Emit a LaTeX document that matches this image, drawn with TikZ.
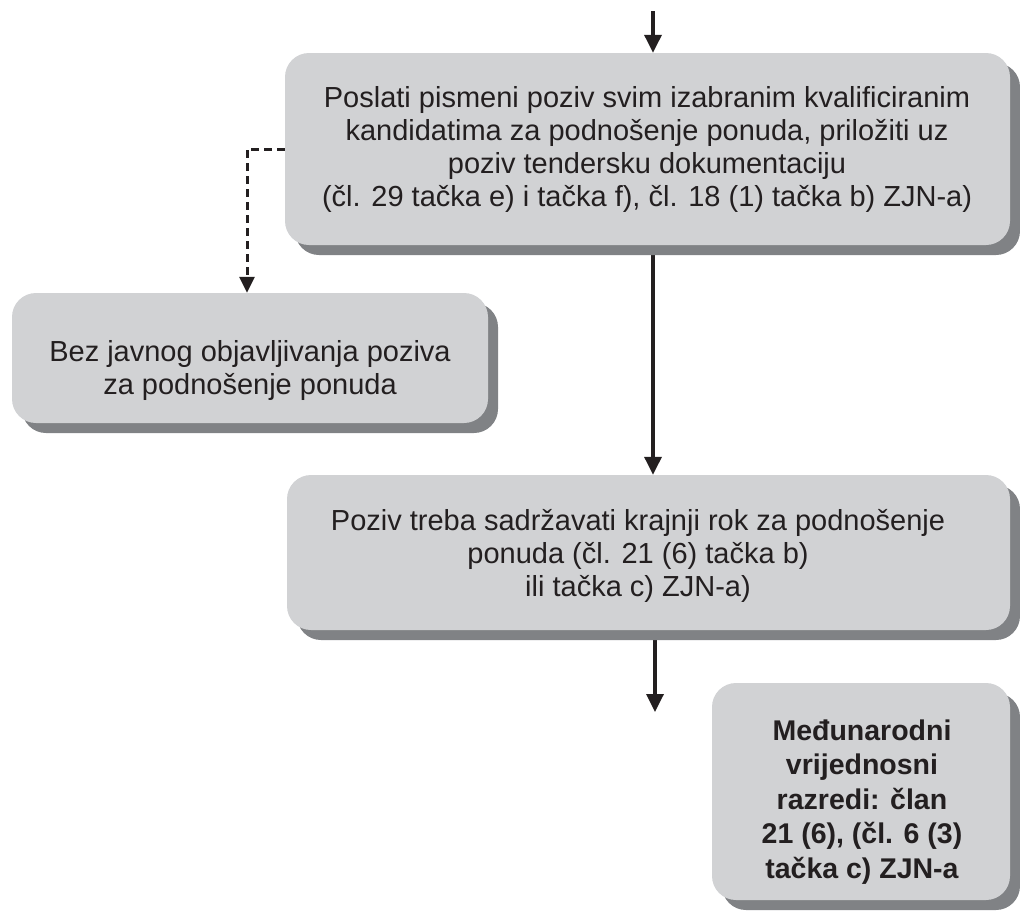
\documentclass[tikz,border=0pt]{standalone}
\usepackage{fontspec}
\setmainfont{Liberation Sans}
\usetikzlibrary{arrows.meta,shadows,backgrounds}
\definecolor{boxgray}{HTML}{D1D2D4}
\definecolor{shadegray}{HTML}{808285}
\definecolor{ink}{HTML}{231F20}
\tikzset{
  stepbox/.style={fill=boxgray, draw=none, rounded corners=24pt, inner sep=0pt,
    drop shadow={shadow xshift=10pt, shadow yshift=-10pt, fill=shadegray, opacity=1}},
  steptext/.style={align=center, text=ink, inner sep=0pt,
    font=\fontsize{29}{33}\selectfont},
  flow/.style={line width=3.4pt, draw=ink, -{Triangle[length=18pt,width=17pt]}},
  dashflow/.style={line width=3pt, draw=ink, dash pattern=on 8pt off 5pt,
    -{Triangle[length=16pt,width=15pt]}}
}
\begin{document}
\begin{tikzpicture}[x=1pt,y=-1pt]
\useasboundingbox (0,0) rectangle (1020,911);
% process boxes
\node[stepbox, minimum width=725pt, minimum height=192pt] (b1) at (647.5,149) {};
\node[stepbox, minimum width=476pt, minimum height=130pt] (b2) at (250,358) {};
\node[stepbox, minimum width=723pt, minimum height=155pt] (b3) at (648.5,552.5) {};
\node[stepbox, minimum width=298pt, minimum height=217pt] (b4) at (861,791.5) {};
% box texts
\node[steptext] (t1) at (647,149)
  {Poslati pismeni poziv svim izabranim kvalificiranim\\
   kandidatima za podnošenje ponuda, priložiti uz\\
   poziv tendersku dokumentaciju\\
   (čl. 29 tačka e) i tačka f), čl. 18 (1) tačka b) ZJN-a)};
\node[steptext] (t2) at (250,370)
  {Bez javnog objavljivanja poziva\\ za podnošenje ponuda};
\node[steptext] (t3) at (638,556)
  {Poziv treba sadržavati krajnji rok za podnošenje\\
   ponuda (čl. 21 (6) tačka b)\\ ili tačka c) ZJN-a)};
\node[steptext, font=\fontsize{28.5}{34.5}\selectfont\bfseries] (t4) at (862,802)
  {Međunarodni\\ vrijednosni\\ razredi: član\\ 21 (6), (čl. 6 (3)\\ tačka c) ZJN-a};
% free ends of the open arrows
\coordinate (in) at (653,11);
\coordinate (out) at (655,712);
% connectors
\begin{scope}[on background layer]
\draw[flow] (in) -- (in |- b1.north);
\draw[flow] (b1.south -| in) -- (b3.north -| in);
\draw[flow] (b3.south -| out) -- (out);
\draw[dashflow] (b1.west) -| ([xshift=-3pt]b2.north);
\end{scope}
\end{tikzpicture}
\end{document}
